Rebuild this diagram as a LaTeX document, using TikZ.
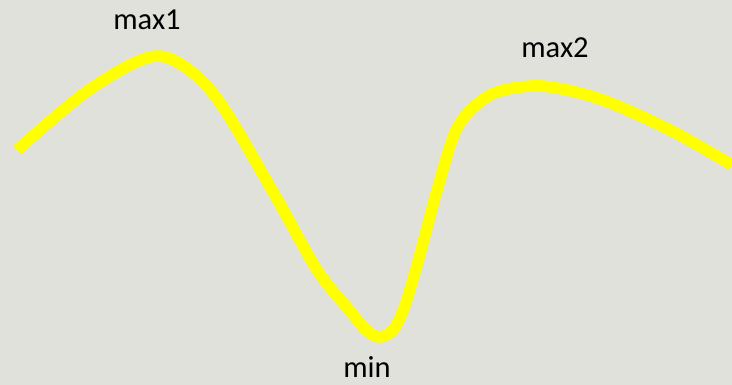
\documentclass[tikz,border=0pt]{standalone}
\usepackage{fontspec}
\setmainfont{Carlito}
\definecolor{bgGrey}{HTML}{E0E1DB}
\definecolor{curveYellow}{HTML}{FFFF00}

\begin{document}
\begin{tikzpicture}[
  x=1pt, y=-1pt,
  label text/.style={font=\fontsize{30.5}{36}\selectfont, text=black, anchor=base, inner sep=0pt}
]

  % Background
  \fill[bgGrey] (0,0) rectangle (732,385);
  \useasboundingbox (0,0) rectangle (732,385);

  % Curve
  \draw[line width=11.5pt, curveYellow, line join=round]
    plot[smooth, tension=0.5] coordinates {
      (17,150) (90,89) (158,56) (212,92) (273,192) (317,270)
      (350,311) (366,330) (379,337) (393,330) (405,305) (421,250) (437,190)
      (458,126) (492,94) (541,86) (600,99) (670,130) (732,165)
    };

  % Labels
  \node[label text] (max1) at (147,30) {max1};
  \node[label text] (max2) at (555,58) {max2};
  \node[label text] (min) at (367,377) {min};

\end{tikzpicture}
\end{document}
